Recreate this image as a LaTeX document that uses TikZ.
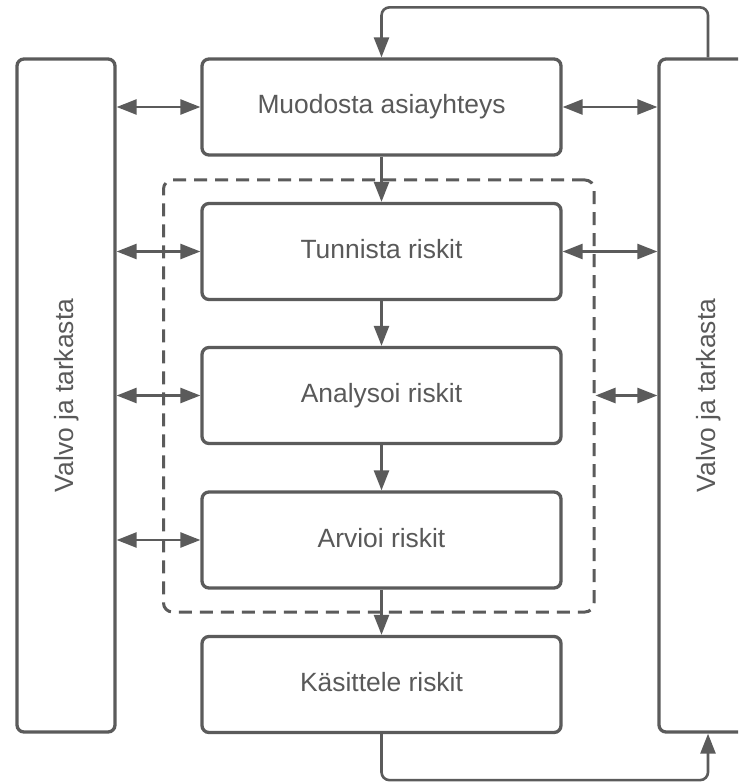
\documentclass[tikz,border=0pt]{standalone}
\usepackage{fontspec}
\setmainfont{Liberation Sans}
\usetikzlibrary{arrows.meta}
\definecolor{ln}{HTML}{5B5B5B}
\definecolor{tx}{HTML}{595959}
\begin{document}
\begin{tikzpicture}[x=1pt,y=-1pt,
  box/.style={draw=ln, line width=3.3pt, rounded corners=7pt, fill=white, inner sep=0pt,
    text=tx, font=\fontsize{26.4}{31}\selectfont, text height=19pt, text depth=5pt,
    minimum width=359pt, minimum height=96pt},
  sidebox/.style={draw=ln, line width=3.3pt, rounded corners=7pt, fill=white, inner sep=0pt,
    minimum width=98pt, minimum height=673pt},
  dashbox/.style={draw=ln, line width=3pt, rounded corners=9pt, dash pattern=on 13pt off 8pt,
    inner sep=0pt, minimum width=430.5pt, minimum height=432pt},
  lbl/.style={text=tx, font=\fontsize{26.4}{31}\selectfont, rotate=90, inner sep=0pt,
    text height=19pt, text depth=5pt},
  conn/.style={draw=ln, line width=2.6pt},
  tip/.style={conn, -{Triangle[length=20pt,width=15pt]}},
  dbl/.style={conn, {Triangle[length=20pt,width=15pt]}-{Triangle[length=20pt,width=15pt]}}]
\clip (0,0) rectangle (738,783);

\node[dashbox] (grp) at (378.75,396) {};

\node[sidebox] (L) at (66,395.5) {};
\node[lbl] (Lt) at (L) {Valvo ja tarkasta};
\node[sidebox] (R) at (708,395.5) {};
\node[lbl] (Rt) at (R) {Valvo ja tarkasta};

\node[box] (muod) at (381.5,107) {Muodosta asiayhteys};
\node[box] (tun) at (381.5,251.5) {Tunnista riskit};
\node[box] (ana) at (381.5,395.5) {Analysoi riskit};
\node[box] (arv) at (381.5,540) {Arvioi riskit};
\node[box] (kas) at (381.5,684.5) {Käsittele riskit};

% vertical flow
\draw[tip] (muod.south) -- (tun.north);
\draw[tip] (tun.south) -- (ana.north);
\draw[tip] (ana.south) -- (arv.north);
\draw[tip] (arv.south) -- (kas.north);

% left double arrows
\draw[dbl] (L.east |- muod) -- (muod.west);
\draw[dbl] (L.east |- tun) -- (tun.west);
\draw[dbl] (L.east |- ana) -- (ana.west);
\draw[dbl] (L.east |- arv) -- (arv.west);

% right double arrows
\draw[dbl] (muod.east) -- (R.west |- muod);
\draw[dbl] (tun.east) -- (R.west |- tun);
\draw[dbl] (grp.east |- ana) -- (R.west |- ana);

% feedback loops
\draw[tip, rounded corners=8pt] (R.north) -- ++(0,-50) -| (muod.north);
\draw[tip, rounded corners=8pt] (kas.south) -- ++(0,46) -| (R.south);
\end{tikzpicture}
\end{document}
